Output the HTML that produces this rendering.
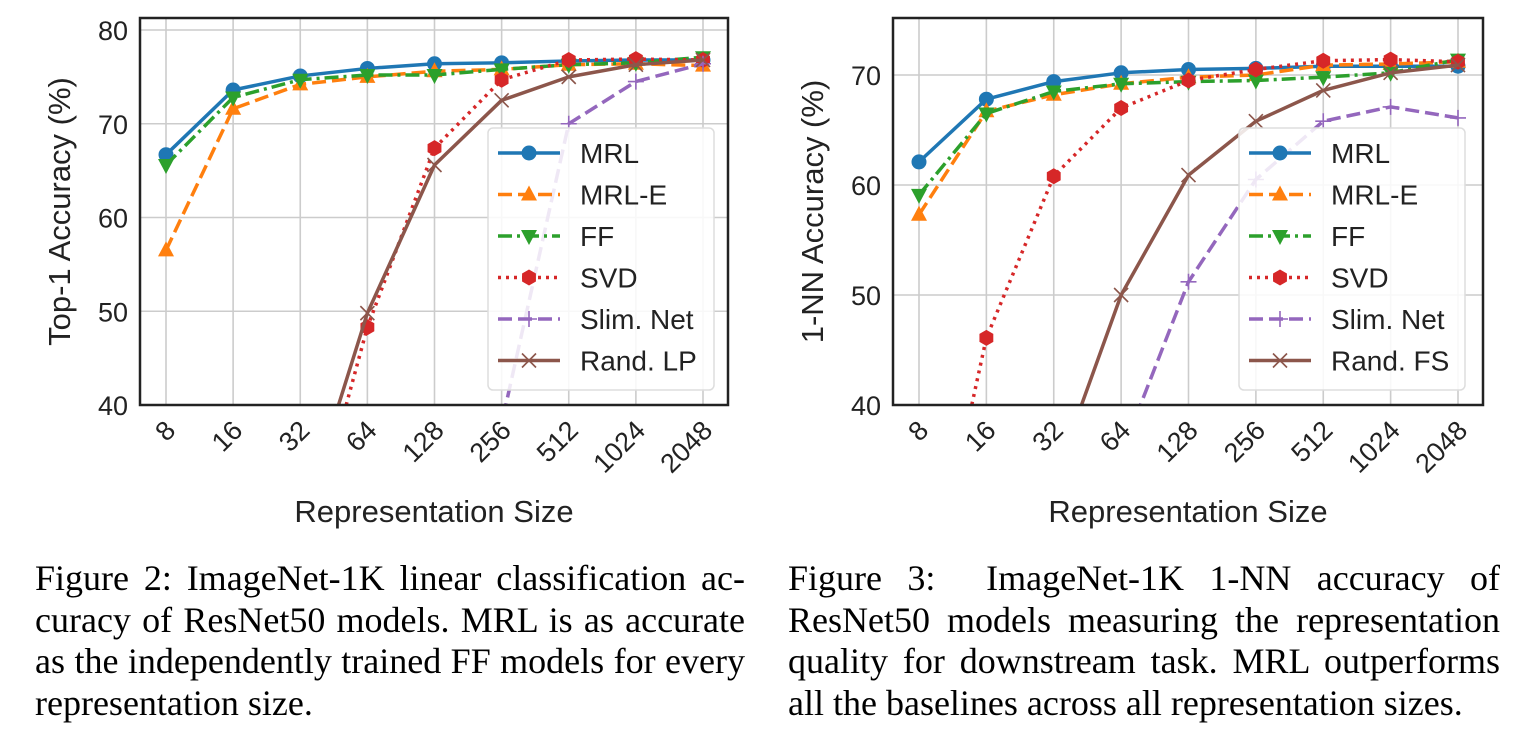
<!DOCTYPE html>
<html><head><meta charset="utf-8">
<style>
html,body{margin:0;padding:0}
body{background:#fff;width:1520px;height:742px;overflow:hidden;position:relative;font-family:"Liberation Sans",sans-serif}
svg{position:absolute;left:0;top:0;display:block}
.cap{position:absolute;font-family:"Liberation Serif",serif;font-size:36px;color:#000;line-height:41.7px}
.cap div{text-align:justify;text-align-last:justify;white-space:nowrap;height:41.7px}
.cap div.last{text-align-last:left}
</style></head>
<body>
<svg id="chart" width="1520" height="742"></svg>
<div class="cap" style="left:35px;top:558px;width:710px">
<div>Figure 2: ImageNet-1K linear classification ac-</div>
<div>curacy of ResNet50 models. MRL is as accurate</div>
<div>as the independently trained FF models for every</div>
<div class="last">representation size.</div>
</div>
<div class="cap" style="left:788px;top:558px;width:712px">
<div>Figure 3:&nbsp; ImageNet-1K 1-NN accuracy of</div>
<div>ResNet50 models measuring the representation</div>
<div>quality for downstream task. MRL outperforms</div>
<div class="last">all the baselines across all representation sizes.</div>
</div>
<script>
const categories = ["8","16","32","64","128","256","512","1024","2048"];
const leftYTicks = [40,50,60,70,80];
const rightYTicks = [40,50,60,70];
const leftMRL  = [66.7,73.6,75.1,75.9,76.4,76.5,76.7,76.8,76.8];
const leftMRLE = [56.5,71.6,74.2,75.0,75.6,75.8,76.3,76.4,76.2];
const leftFF   = [65.6,72.8,74.7,75.2,75.2,75.8,76.3,76.5,77.1];
const leftSVD  = [5,12,22,48.3,67.4,74.7,76.8,76.9,76.8];
const leftSlim = [5,5,5,10,20,38,70.0,74.5,76.4];
const leftRand = [5,15,27,49.8,65.6,72.5,75.0,76.3,76.8];
const rightMRL  = [62.1,67.8,69.4,70.2,70.5,70.6,70.8,70.8,70.8];
const rightMRLE = [57.3,66.7,68.2,69.2,69.8,70.0,70.9,71.0,71.2];
const rightFF   = [59.1,66.5,68.5,69.2,69.4,69.5,69.8,70.2,71.4];
const rightSVD  = [18,46.1,60.8,67.0,69.5,70.5,71.3,71.4,71.2];
const rightSlim = [5,10,20,35.5,51.2,60.5,65.8,67.1,66.1];
const rightRand = [10,20,33,50.0,60.9,65.8,68.6,70.2,70.9];
const leftNames = ["MRL","MRL-E","FF","SVD","Slim. Net","Rand. LP"];
const rightNames = ["MRL","MRL-E","FF","SVD","Slim. Net","Rand. FS"];

const NS="http://www.w3.org/2000/svg";
const svg=document.getElementById('chart');
function mk(tag,attrs,parent){const e=document.createElementNS(NS,tag);for(const k in attrs)e.setAttribute(k,attrs[k]);(parent||svg).appendChild(e);return e;}
const styles=[
 {c:"#1f77b4",dash:"",m:"circle"},
 {c:"#ff7f0e",dash:"14,6",m:"tri-up"},
 {c:"#2ca02c",dash:"14,5,3,5",m:"tri-down"},
 {c:"#d62728",dash:"3,5",m:"hex"},
 {c:"#9467bd",dash:"14,6",m:"plus"},
 {c:"#8c564b",dash:"",m:"x"}
];
function marker(g,type,x,y,c){
 let e;
 if(type==="circle") e=mk('circle',{cx:x,cy:y,r:7.5,fill:c},g);
 else if(type==="tri-up") e=mk('polygon',{points:`${x},${y-9} ${x-8},${y+6} ${x+8},${y+6}`,fill:c},g);
 else if(type==="tri-down") e=mk('polygon',{points:`${x},${y+9} ${x-8},${y-6} ${x+8},${y-6}`,fill:c},g);
 else if(type==="hex"){let p=[];for(let i=0;i<6;i++){const a=Math.PI/3*i+Math.PI/6;p.push((x+8*Math.cos(a))+","+(y+8*Math.sin(a)));}e=mk('polygon',{points:p.join(" "),fill:c},g);}
 else if(type==="plus") e=mk('path',{d:`M${x-8},${y}H${x+8}M${x},${y-8}V${y+8}`,stroke:c,'stroke-width':1.6,fill:'none'},g);
 else e=mk('path',{d:`M${x-7},${y-7}L${x+7},${y+7}M${x-7},${y+7}L${x+7},${y-7}`,stroke:c,'stroke-width':1.6,fill:'none'},g);
 
 
}
function panel(id,box,yMin,yMax,yTop,yBot,yTicks,series,names,ylabel,legBox){
 const xFirst=box.x0+26, xLast=box.x1-25;
 const xs=i=>xFirst+i*(xLast-xFirst)/(categories.length-1);
 const ys=v=>yBot+(v-yMin)*(yTop-yBot)/(yMax-yMin);
 const g=mk('g',{});  
 const cp=mk('clipPath',{id:id+'-clip'},g);
 mk('rect',{x:box.x0,y:box.y0,width:box.x1-box.x0,height:box.y1-box.y0},cp);
 categories.forEach((c,i)=>{const gl=mk('line',{x1:xs(i),x2:xs(i),y1:box.y0,y2:box.y1,stroke:'#cccccc','stroke-width':1.6},g);
  const ax=xs(i)+11, ay=box.y1+27;
  const t=mk('text',{x:ax,y:ay,'font-size':27,fill:'#222','text-anchor':'end',transform:`rotate(-45 ${ax} ${ay})`},g);t.textContent=c;});
 yTicks.forEach(v=>{const gl=mk('line',{x1:box.x0,x2:box.x1,y1:ys(v),y2:ys(v),stroke:'#cccccc','stroke-width':1.6},g);
  const t=mk('text',{x:box.x0-12,y:ys(v)+10,'font-size':27,fill:'#222','text-anchor':'end'},g);t.textContent=v;});
 const sg=mk('g',{'clip-path':`url(#${id}-clip)`},g);
 series.forEach((vals,k)=>{const s=styles[k];
  const pts=vals.map((v,i)=>xs(i)+","+ys(v)).join(" ");
  const pl=mk('polyline',{points:pts,fill:'none',stroke:s.c,'stroke-width':3.5,'stroke-dasharray':s.dash,'stroke-linejoin':'round'},sg);
  
  vals.forEach((v,i)=>marker(sg,s.m,xs(i),ys(v),s.c));});
 const fr=mk('rect',{x:box.x0,y:box.y0,width:box.x1-box.x0,height:box.y1-box.y0,fill:'none',stroke:'#222','stroke-width':2.5},g);
 
 const xl=mk('text',{x:(box.x0+box.x1)/2,y:522,'font-size':31,fill:'#222','text-anchor':'middle'},g);xl.textContent='Representation Size';
 const yx=box.x0-70, yc=(box.y0+box.y1)/2;
 const yl=mk('text',{x:yx,y:yc,'font-size':31,fill:'#222','text-anchor':'middle',transform:`rotate(-90 ${yx} ${yc})`},g);yl.textContent=ylabel;
 const lg=mk('g',{},g);
 mk('rect',{x:legBox.x,y:legBox.y,width:226,height:262,rx:5,fill:'rgba(255,255,255,0.85)',stroke:'#ddd','stroke-width':1.5},lg);
 names.forEach((n,k)=>{const s=styles[k];const yy=legBox.y+25+k*41.5;const lx=legBox.x+10;
  const e=mk('g',{},lg);
  mk('line',{x1:lx,x2:lx+62,y1:yy,y2:yy,stroke:s.c,'stroke-width':3.5,'stroke-dasharray':s.dash},e);
  marker(e,s.m,lx+31,yy,s.c);
  const t=mk('text',{x:lx+82,y:yy+10,'font-size':28,fill:'#222'},e);t.textContent=n;});
}
panel('left-chart',{x0:140,x1:728,y0:18,y1:405},40,80,30,405,leftYTicks,[leftMRL,leftMRLE,leftFF,leftSVD,leftSlim,leftRand],leftNames,'Top-1 Accuracy (%)',{x:488,y:128});
panel('right-chart',{x0:893,x1:1483,y0:18,y1:405},40,70,75,405,rightYTicks,[rightMRL,rightMRLE,rightFF,rightSVD,rightSlim,rightRand],rightNames,'1-NN Accuracy (%)',{x:1239,y:128});
</script>
</body></html>
